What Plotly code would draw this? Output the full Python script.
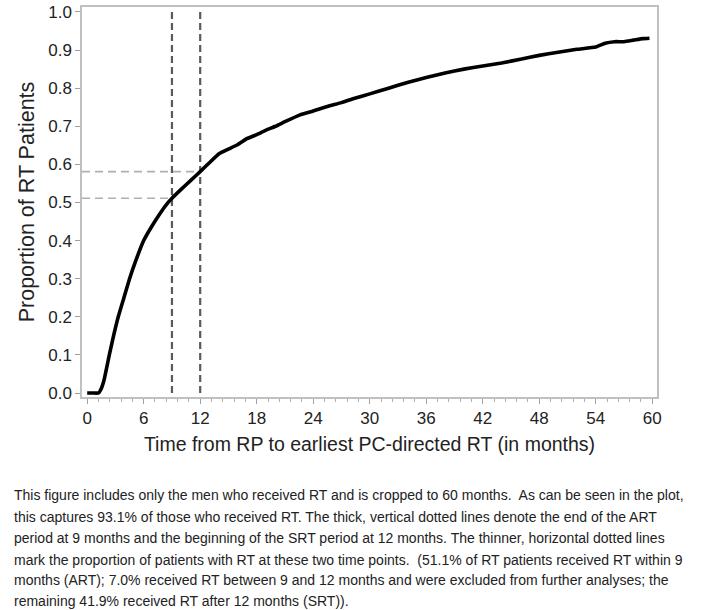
import plotly.graph_objects as go

# ---- data ----
months = [0, 0.6, 1.2, 1.5, 1.8, 2.1, 2.35, 2.8, 3.3, 3.9, 4.5, 5.2, 6.0, 6.8, 7.7, 8.6,
          9.0, 10.0, 11.0, 12.0, 13.0, 14.0, 15.0, 16.0, 17.0, 18.0, 19.0, 20.0, 21.0, 22.6, 24.0, 25.5,
          27.0, 28.5, 30.0, 32.0, 34.0, 36.0, 38.0, 40.0, 42.0, 44.0, 46.0, 48.0, 50.0, 52.0, 54.0,
          55.0, 56.0, 57.0, 58.0, 59.0, 59.7]
proportion = [0.0, 0.0, 0.0, 0.012, 0.035, 0.07, 0.10, 0.15, 0.20, 0.25, 0.30, 0.35, 0.40, 0.435,
              0.47, 0.50, 0.511, 0.535, 0.558, 0.581, 0.605, 0.628, 0.640, 0.652, 0.668,
              0.678, 0.690, 0.700, 0.712, 0.730, 0.740, 0.752, 0.762, 0.774, 0.785, 0.800, 0.815,
              0.828, 0.840, 0.850, 0.858, 0.866, 0.876, 0.886, 0.894, 0.902, 0.908, 0.918, 0.922,
              0.922, 0.926, 0.930, 0.931]

period_months = [9, 12]            # end of ART, start of SRT
period_props = [0.511, 0.581]      # proportion with RT at those time points

x_ticks = [0, 6, 12, 18, 24, 30, 36, 42, 48, 54, 60]
y_ticks = [0.0, 0.1, 0.2, 0.3, 0.4, 0.5, 0.6, 0.7, 0.8, 0.9, 1.0]

x_title = "Time from RP to earliest PC-directed RT (in months)"
y_title = "Proportion of RT Patients"
caption_lines = [
    "This figure includes only the men who received RT and is cropped to 60 months.&nbsp; As can be seen in the plot,",
    "this captures 93.1% of those who received RT. The thick, vertical dotted lines denote the end of the ART",
    "period at 9 months and the beginning of the SRT period at 12 months. The thinner, horizontal dotted lines",
    "mark the proportion of patients with RT at these two time points.&nbsp; (51.1% of RT patients received RT within 9",
    "months (ART); 7.0% received RT between 9 and 12 months and were excluded from further analyses; the",
    "remaining 41.9% received RT after 12 months (SRT)).",
]

X_MIN, X_MAX = -0.55, 60.5
Y_MIN, Y_MAX = -0.0105, 1.013

fig = go.Figure()

# horizontal thin dashed reference lines
for m, p in zip(period_months, period_props):
    fig.add_trace(go.Scatter(x=[X_MIN, m], y=[p, p], mode="lines",
                             line=dict(color="#b0b0b0", width=1.6, dash="8px,5px"),
                             hoverinfo="skip", showlegend=False))
# vertical thick dashed lines
for m in period_months:
    fig.add_trace(go.Scatter(x=[m, m], y=[0.0, 1.0], mode="lines",
                             line=dict(color="#5a5a5a", width=2.2, dash="7px,4px"),
                             hoverinfo="skip", showlegend=False))

# cumulative curve
fig.add_trace(go.Scatter(x=months, y=proportion, mode="lines",
                         line=dict(color="black", width=3.6, shape="spline", smoothing=0.4),
                         showlegend=False))

FONT = "Liberation Sans, Arial, sans-serif"

fig.update_xaxes(range=[X_MIN, X_MAX], tickvals=x_ticks, ticktext=[str(v) for v in x_ticks],
                 showgrid=False, zeroline=False, showline=True, linecolor="#c0c0c0", linewidth=1.5,
                 mirror=True, ticks="outside", ticklen=5, tickcolor="#a0a0a0", tickwidth=1,
                 minor=dict(ticks="outside", ticklen=3, tickcolor="#b0b0b0", dtick=1.2, tick0=0),
                 tickfont=dict(family=FONT, size=17, color="#222"),
                 title=dict(text=x_title, font=dict(family=FONT, size=19.5, color="#222"), standoff=10))
fig.update_yaxes(range=[Y_MIN, Y_MAX], tickvals=y_ticks, ticktext=[f"{v:.1f}" for v in y_ticks],
                 showgrid=False, zeroline=False, showline=True, linecolor="#c0c0c0", linewidth=1.5,
                 mirror=True, ticks="outside", ticklen=5, tickcolor="#a0a0a0", tickwidth=1,
                 tickfont=dict(family=FONT, size=17, color="#222"),
                 title=dict(text=y_title, font=dict(family=FONT, size=21.5, color="#222"), standoff=8))

# caption below the chart (pixel rows converted to paper coordinates)
PLOT_TOP, PLOT_BOTTOM = 7, 397
line_centers = [495, 517, 538, 559.5, 580, 601]
for txt, yc in zip(caption_lines, line_centers):
    fig.add_annotation(text=txt, xref="paper", yref="paper",
                       x=(12 - 82) / 575, y=(PLOT_BOTTOM - yc) / (PLOT_BOTTOM - PLOT_TOP),
                       xanchor="left", yanchor="middle", showarrow=False,
                       font=dict(family=FONT, size=14, color="#222"))

fig.update_layout(width=703, height=610,
                  margin=dict(l=82, r=46, t=7, b=213, autoexpand=False),
                  paper_bgcolor="white", plot_bgcolor="white")

fig.write_html("out.html", config={"displayModeBar": False},
               post_script="document.body.style.margin='0px';")
